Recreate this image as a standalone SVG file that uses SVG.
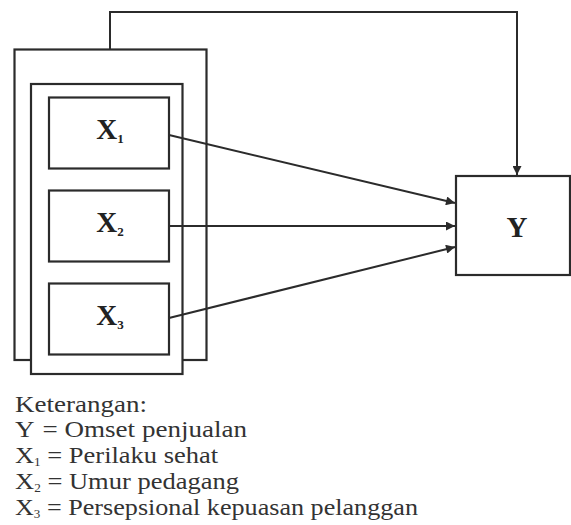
<svg xmlns="http://www.w3.org/2000/svg" width="571" height="525" viewBox="0 0 571 525">
<defs>
<style>
.box{fill:#fff;stroke:#2b2b2b;stroke-width:2.2}
.ln{fill:none;stroke:#2b2b2b;stroke-width:2}
.lbl{font-weight:bold;font-size:29px;fill:#222}
.sub{font-size:13px}
.leg{font-size:24px;fill:#333}
.lsub{font-size:12px}
</style>
<marker id="ah" viewBox="0 0 10 10" refX="10" refY="5" markerWidth="11" markerHeight="9" markerUnits="userSpaceOnUse" orient="auto">
<path d="M0,0 L10,5 L0,10 z" fill="#2b2b2b"/>
</marker>
</defs>
<rect width="571" height="525" fill="#fff"/>
<g id="outer-frame"><rect class="box" x="14.5" y="49.5" width="192" height="310.5"/></g>
<g id="inner-frame"><rect class="box" x="31" y="84" width="151.5" height="290"/></g>
<g id="x1"><rect class="box" x="49" y="97.5" width="120" height="71"/><text class="lbl" font-family="Liberation Serif" x="110" y="139" text-anchor="middle">X<tspan class="sub" dy="4">1</tspan></text></g>
<g id="x2"><rect class="box" x="49" y="190.5" width="120" height="71"/><text class="lbl" font-family="Liberation Serif" x="110" y="232" text-anchor="middle">X<tspan class="sub" dy="4">2</tspan></text></g>
<g id="x3"><rect class="box" x="49" y="283.5" width="120" height="71"/><text class="lbl" font-family="Liberation Serif" x="110" y="325" text-anchor="middle">X<tspan class="sub" dy="4">3</tspan></text></g>
<g id="y"><rect class="box" x="456" y="176" width="114" height="99"/><text class="lbl" font-family="Liberation Serif" x="517" y="237" text-anchor="middle">Y</text></g>
<g id="connectors">
<path class="ln" d="M110,49 V12 H517 V175" marker-end="url(#ah)"/>
<path class="ln" d="M169,135 L455,203" marker-end="url(#ah)"/>
<path class="ln" d="M169,226 L455,226" marker-end="url(#ah)"/>
<path class="ln" d="M169,318 L455,247" marker-end="url(#ah)"/>
</g>
<g id="legend" font-family="Liberation Serif">
<text class="leg" font-family="Liberation Serif" x="15" y="412" textLength="132" lengthAdjust="spacingAndGlyphs">Keterangan:</text>
<text class="leg" font-family="Liberation Serif" x="15" y="437" textLength="232" lengthAdjust="spacingAndGlyphs">Y <tspan dx="2">= Omset penjualan</tspan></text>
<text class="leg" font-family="Liberation Serif" x="15" y="463" textLength="203" lengthAdjust="spacingAndGlyphs">X<tspan class="lsub" dy="3">1</tspan><tspan dy="-3"> = Perilaku sehat</tspan></text>
<text class="leg" font-family="Liberation Serif" x="15" y="489" textLength="224" lengthAdjust="spacingAndGlyphs">X<tspan class="lsub" dy="3">2</tspan><tspan dy="-3"> = Umur pedagang</tspan></text>
<text class="leg" font-family="Liberation Serif" x="15" y="515" textLength="403" lengthAdjust="spacingAndGlyphs">X<tspan class="lsub" dy="3">3</tspan><tspan dy="-3"> = Persepsional kepuasan pelanggan</tspan></text>
</g>
</svg>
